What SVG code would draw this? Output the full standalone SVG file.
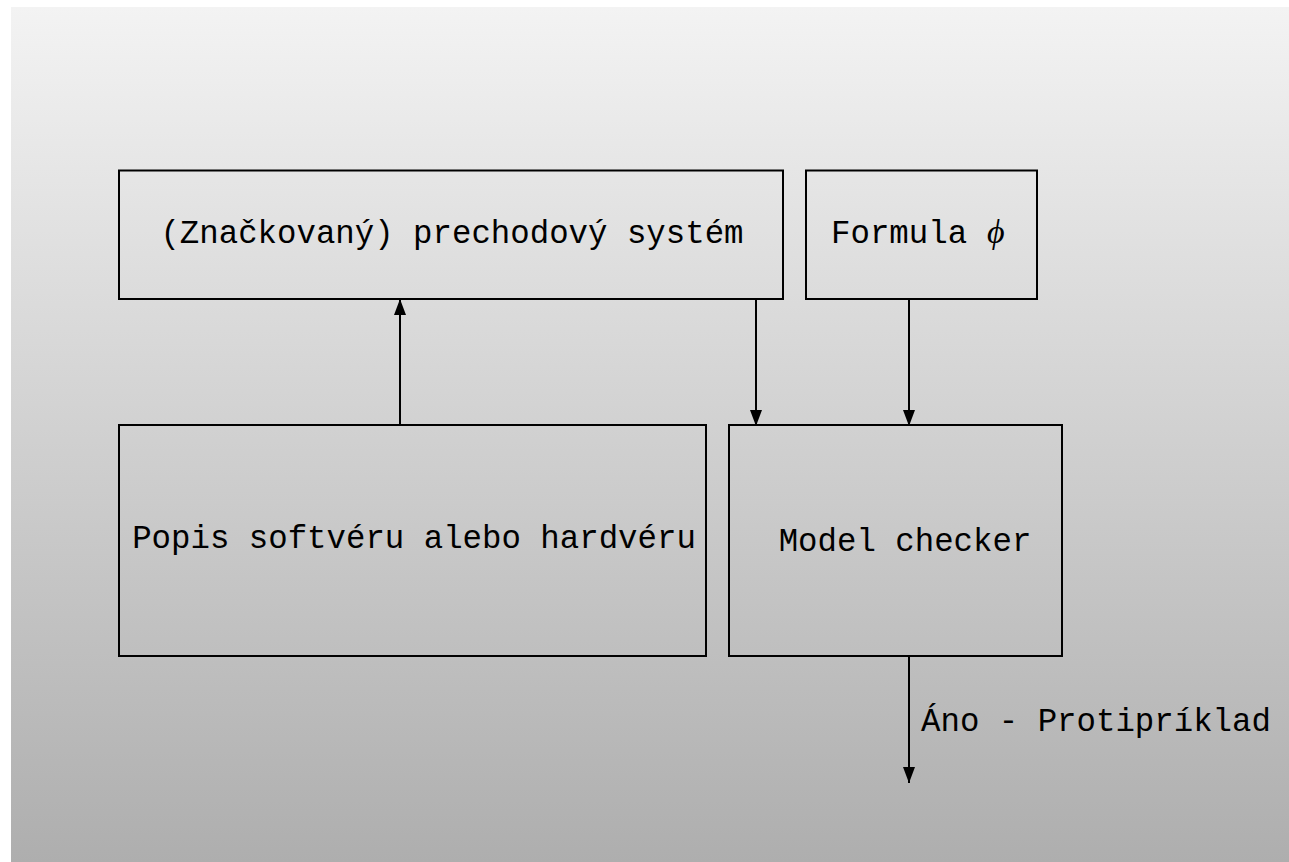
<svg xmlns="http://www.w3.org/2000/svg" width="1289" height="862" viewBox="0 0 1289 862">
  <defs>
    <linearGradient id="bg" x1="0" y1="0" x2="0" y2="1">
      <stop offset="0" stop-color="#f3f3f3"/>
      <stop offset="1" stop-color="#aeaeae"/>
    </linearGradient>
    <marker id="arr" markerUnits="userSpaceOnUse" markerWidth="16" markerHeight="12" refX="16" refY="6" orient="auto">
      <path d="M0,0 L16,6 L0,12 Z" fill="#000"/>
    </marker>
  </defs>
  <style>
    .box { fill: none; stroke: #000; stroke-width: 2; }
    .lbl { font-family: "Liberation Mono", "DejaVu Sans Mono", monospace; font-size: 32.4px; fill: #000; }
    .edge { fill: none; stroke: #000; stroke-width: 2; marker-end: url(#arr); }
  </style>
  <rect x="0" y="0" width="1289" height="862" fill="#ffffff"/>
  <rect x="11" y="7" width="1278" height="855" fill="url(#bg)"/>

  <g id="lts">
    <rect class="box" x="119" y="170.5" width="664" height="128.5"/>
    <text class="lbl" x="452" y="243" text-anchor="middle">(Značkovaný) prechodový systém</text>
  </g>
  <g id="formula">
    <rect class="box" x="806" y="170.5" width="231" height="128.5"/>
    <text class="lbl" x="831" y="243">Formula</text>
    <text x="987" y="243" font-family="'Liberation Serif', serif" font-style="italic" font-size="34" fill="#000">ϕ</text>
  </g>
  <g id="popis">
    <rect class="box" x="119" y="425" width="587" height="231"/>
    <text class="lbl" x="414" y="548" text-anchor="middle">Popis softvéru alebo hardvéru</text>
  </g>
  <g id="checker">
    <rect class="box" x="729" y="425" width="333" height="231"/>
    <text class="lbl" x="905" y="551" text-anchor="middle">Model checker</text>
  </g>

  <g id="connectors">
    <line class="edge" x1="400" y1="425" x2="400" y2="299"/>
    <line class="edge" x1="756" y1="299" x2="756" y2="426"/>
    <line class="edge" x1="909" y1="299" x2="909" y2="426"/>
    <line class="edge" x1="909" y1="656" x2="909" y2="783"/>
    <text class="lbl" x="921" y="731">Áno - Protipríklad</text>
  </g>
</svg>
